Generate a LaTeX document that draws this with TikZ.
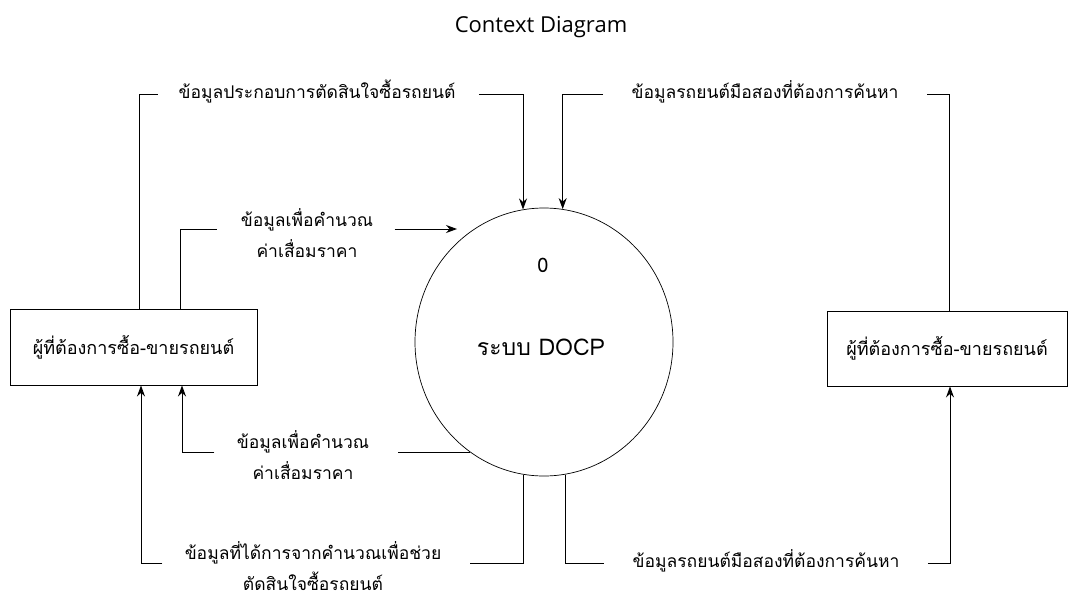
\documentclass[tikz,border=0pt]{standalone}
\usepackage{fontspec}
\setmainfont{Open Sans}
\newfontfamily\thaifont[Script=Thai]{Loma}
\usetikzlibrary{shapes.geometric,arrows.meta,calc}
\begin{document}
\begin{tikzpicture}[x=1pt,y=-1pt,line width=0.9pt,
  flow/.style={-{Stealth[length=11pt,width=8pt]}},
  lbl/.style={font=\thaifont\fontsize{17.5}{31}\selectfont,align=center,inner sep=0pt},
  entity/.style={draw,font=\thaifont\fontsize{18}{22}\selectfont,inner sep=0pt},
  process/.style={draw,ellipse,line width=0.7pt,inner sep=0pt,minimum width=258pt,minimum height=268pt}]
\useasboundingbox (0,0) rectangle (1070,597);
\fill[white] (0,0) rectangle (1070,597);
\node[font=\fontsize{22}{24}\selectfont] (title) at (541,27) {Context Diagram};
% entities
\node[entity,minimum width=247pt,minimum height=76pt] (L) at (133.5,347) {ผู้ที่ต้องการซื้อ-ขายรถยนต์};
\node[entity,minimum width=240pt,minimum height=75pt] (R) at (947,348.5) {ผู้ที่ต้องการซื้อ-ขายรถยนต์};
% process
\node[process] (P) at (544,342) {};
\node[font=\thaifont\fontsize{20}{22}\selectfont] (P0) at (543,265) {0};
\node[font=\thaifont\fontsize{23}{26}\selectfont] (PL) at (541,347) {ระบบ DOCP};
% labels
\node[lbl] (t1) at (317,92) {ข้อมูลประกอบการตัดสินใจซื้อรถยนต์};
\node[lbl] (t2) at (765,92) {ข้อมูลรถยนต์มือสองที่ต้องการค้นหา};
\node[lbl] (t3) at (307,233) {ข้อมูลเพื่อคำนวณ\\ค่าเสื่อมราคา};
\node[lbl] (t4) at (303,455) {ข้อมูลเพื่อคำนวณ\\ค่าเสื่อมราคา};
\node[lbl] (t5) at (313,566) {ข้อมูลที่ได้การจากคำนวณเพื่อช่วย\\ตัดสินใจซื้อรถยนต์};
\node[lbl] (t6) at (766,561) {ข้อมูลรถยนต์มือสองที่ต้องการค้นหา};
% helper coordinates
\coordinate (c1) at (139,94);
\coordinate (c2) at (949,94);
\coordinate (c3) at (180,229);
\coordinate (e3) at (457,229);
\coordinate (c4) at (182,452);
\coordinate (c5) at (141,563);
\coordinate (c6) at (950,563);
% flow 1
\draw (L.north -| c1) |- ($(t1.west |- c1)+(-20,0)$);
\draw[flow] ($(t1.east |- c1)+(23,0)$) -| (P.99);
% flow 2
\draw (R.north -| c2) |- ($(t2.east |- c2)+(28,0)$);
\draw[flow] ($(t2.west |- c2)+(-28,0)$) -| (P.82);
% flow 3
\draw (L.north -| c3) |- ($(t3.west |- c3)+(-23,0)$);
\draw[flow] ($(t3.east |- c3)+(21,0)$) -- (e3);
% flow 4
\draw (P.236) -- ($(t4.east |- P.236)+(28,0)$);
\draw[flow] ($(t4.west |- P.236)+(-22,0)$) -| (L.south -| c4);
% flow 5
\draw (P.261) -- (P.261 |- c5) -- ($(t5.east |- c5)+(28,0)$);
\draw[flow] ($(t5.west |- c5)+(-22,0)$) -| (L.south -| c5);
% flow 6
\draw (P.279) -- (P.279 |- c6) -- ($(t6.west |- c6)+(-28,0)$);
\draw[flow] ($(t6.east |- c6)+(28,0)$) -| (R.south -| c6);
\end{tikzpicture}
\end{document}
